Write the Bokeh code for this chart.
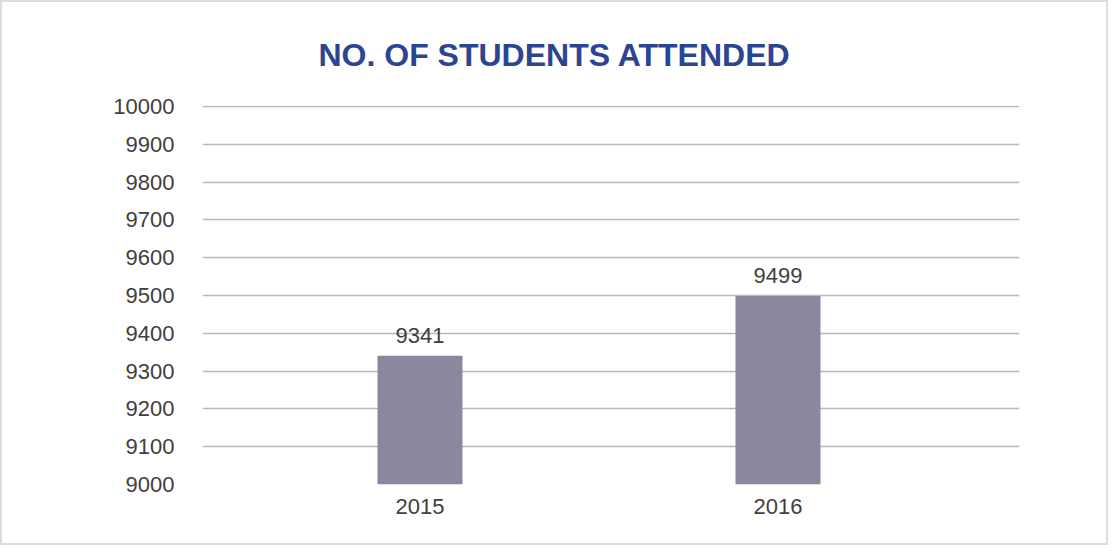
from bokeh.plotting import figure
from bokeh.models import FixedTicker, Range1d, ColumnDataSource, Title
from bokeh.core.properties import value
from bokeh.embed import file_html
from bokeh.resources import INLINE

years = [2015, 2016]
students = [9341, 9499]
labels = ["9341", "9499"]
y_ticks = [9000, 9100, 9200, 9300, 9400, 9500, 9600, 9700, 9800, 9900, 10000]
title_text = "NO. OF STUDENTS ATTENDED"

src = ColumnDataSource(dict(x=years, top=students, label=labels))

p = figure(width=1108, height=545, output_backend="svg", toolbar_location=None,
           x_range=Range1d(2014.3925, 2016.6746), y_range=Range1d(9000, 10003),
           min_border_left=200, min_border_right=91, min_border_top=103, min_border_bottom=63)
p.styles = {"border": "2px solid #dcdcdc", "box-sizing": "border-box"}
p.outline_line_color = None
p.background_fill_color = "white"
p.border_fill_color = "white"

t = Title(text=title_text, align="left", offset=116, text_font="Liberation Sans",
          text_font_size="32px", text_font_style="bold", text_color="#2c4593", standoff=65)
p.add_layout(t, "above")

p.vbar(x="x", top="top", bottom=9000, width=0.2374, source=src, fill_color="#8b879f", line_color=None)
p.text(x="x", y="top", text="label", source=src, text_align="center", text_baseline="bottom",
       y_offset=-13, text_font=value("Liberation Sans"), text_font_size="22px", text_color="#404040")

p.yaxis.ticker = FixedTicker(ticks=y_ticks)
p.xaxis.ticker = FixedTicker(ticks=years)
for ax in (p.xaxis[0], p.yaxis[0]):
    ax.axis_line_color = None
    ax.major_tick_line_color = None
    ax.minor_tick_line_color = None
    ax.major_label_text_font = "Liberation Sans"
    ax.major_label_text_font_size = "22px"
    ax.major_label_text_color = "#404040"
p.yaxis.major_label_standoff = 22
p.xaxis.major_label_standoff = 8

p.xgrid.grid_line_color = None
p.ygrid.grid_line_color = "#b8b8b8"
p.ygrid.grid_line_width = 1.6
p.ygrid.ticker = FixedTicker(ticks=y_ticks)

open("out.html", "w").write(file_html(p, INLINE))
